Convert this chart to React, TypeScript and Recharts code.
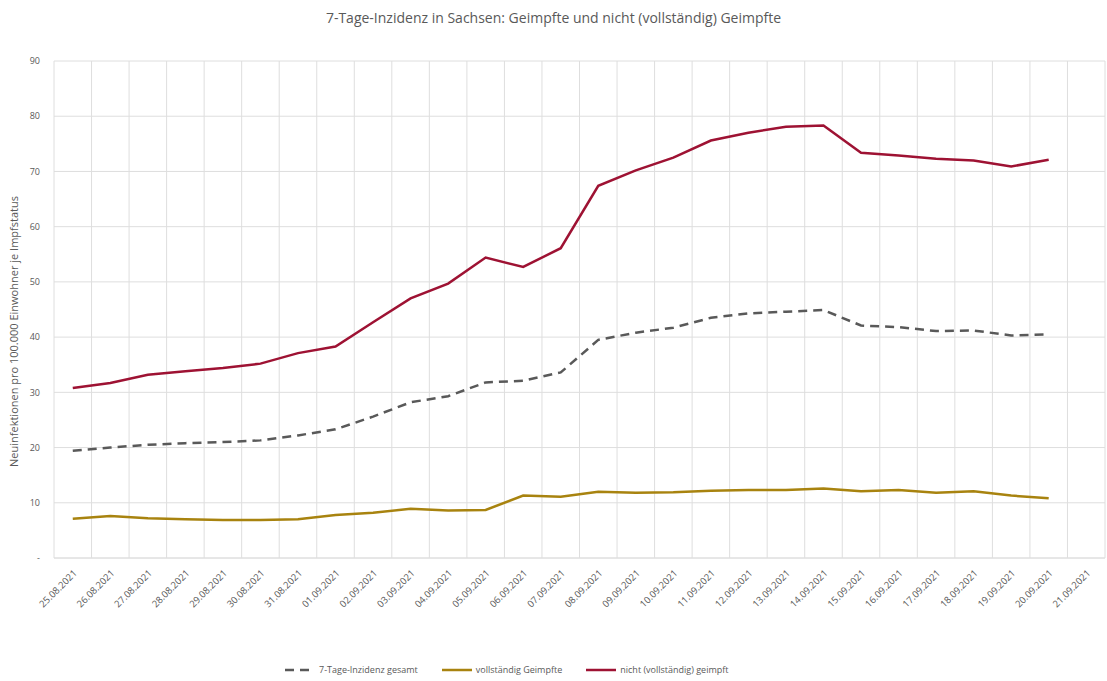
import React from 'react';
import { LineChart, Line, XAxis, YAxis, CartesianGrid } from 'recharts';

// Meldedatum (letzte Kategorie ohne Werte)
const dates = [
  '25.08.2021', '26.08.2021', '27.08.2021', '28.08.2021', '29.08.2021', '30.08.2021', '31.08.2021',
  '01.09.2021', '02.09.2021', '03.09.2021', '04.09.2021', '05.09.2021', '06.09.2021', '07.09.2021',
  '08.09.2021', '09.09.2021', '10.09.2021', '11.09.2021', '12.09.2021', '13.09.2021', '14.09.2021',
  '15.09.2021', '16.09.2021', '17.09.2021', '18.09.2021', '19.09.2021', '20.09.2021', '21.09.2021',
];

const gesamt = [
  19.4, 20.0, 20.5, 20.8, 21.0, 21.3, 22.2, 23.3, 25.6, 28.2, 29.3, 31.8, 32.1, 33.6,
  39.5, 40.8, 41.7, 43.5, 44.3, 44.6, 44.9, 42.1, 41.8, 41.1, 41.2, 40.3, 40.5,
];

const vollstaendig = [
  7.1, 7.6, 7.2, 7.0, 6.9, 6.9, 7.0, 7.8, 8.2, 8.9, 8.6, 8.7, 11.3, 11.1,
  12.0, 11.8, 11.9, 12.2, 12.3, 12.3, 12.6, 12.1, 12.3, 11.8, 12.1, 11.3, 10.8,
];

const nichtVollstaendig = [
  30.8, 31.7, 33.2, 33.8, 34.4, 35.2, 37.1, 38.3, 42.7, 47.0, 49.7, 54.4, 52.7, 56.1,
  67.4, 70.2, 72.5, 75.6, 77.0, 78.1, 78.3, 73.4, 72.9, 72.3, 72.0, 70.9, 72.1,
];

const yTicks = [0, 10, 20, 30, 40, 50, 60, 70, 80, 90];

const rows = dates.map((date, i) => ({
  idx: i,
  date,
  gesamt: gesamt[i] ?? null,
  vollstaendig: vollstaendig[i] ?? null,
  nichtVollstaendig: nichtVollstaendig[i] ?? null,
}));

const GRAY = '#595959';
const RED = '#9e1233';
const GOLD = '#a8830f';
const GRID = '#dedede';
const FONT = '"Open Sans", "Liberation Sans", sans-serif';

const LegendItem: React.FC<{ color: string; dashed?: boolean; label: string }> = ({ color, dashed, label }) => (
  <div style={{ display: 'flex', alignItems: 'center', marginRight: 24 }}>
    <svg width={30} height={6} style={{ marginRight: 4 }}>
      <line x1={0} y1={3} x2={30} y2={3} stroke={color} strokeWidth={2.5} strokeDasharray={dashed ? '9 6' : undefined} />
    </svg>
    <span>{label}</span>
  </div>
);

const App: React.FC = () => (
  <div style={{ position: 'absolute', left: 0, top: 0, width: 1107, height: 681, background: '#fff', fontFamily: FONT }}>
    <div style={{ position: 'absolute', top: 8, left: 0, width: 1107, textAlign: 'center', fontSize: 14, color: GRAY }}>
      7-Tage-Inzidenz in Sachsen: Geimpfte und nicht (vollständig) Geimpfte
    </div>
    <LineChart width={1107} height={681} data={rows} margin={{ top: 61, right: 2, bottom: 43, left: 24 }}>
      <CartesianGrid
        stroke={GRID}
        verticalCoordinatesGenerator={({ offset }: any) =>
          dates.map((_, k) => offset.left + (k * offset.width) / dates.length).concat(offset.left + offset.width)
        }
      />
      <XAxis
        dataKey="idx"
        type="number"
        domain={[-0.5, dates.length - 0.5]}
        ticks={rows.map(r => r.idx)}
        interval={0}
        tickFormatter={(i: number) => dates[i]}
        axisLine={{ stroke: GRID }}
        tickLine={false}
        height={80}
        tick={{ angle: -45, textAnchor: 'end', fontSize: 9.5, fill: GRAY, fontFamily: FONT }}
        tickMargin={5}
      />
      <YAxis
        domain={[0, 90]}
        ticks={yTicks}
        width={30}
        axisLine={false}
        tickLine={false}
        tickMargin={8}
        tickFormatter={(v: number) => (v === 0 ? '-' : String(v))}
        tick={{ fontSize: 9, fill: GRAY, fontFamily: FONT }}
        label={{
          content: ({ viewBox }: any) => {
            const cy = viewBox.y + viewBox.height / 2 + 22;
            return (
              <text x={18} y={cy} transform={`rotate(-90 18 ${cy})`} textAnchor="middle" fontSize={11} fill={GRAY} fontFamily={FONT}>
                Neuinfektionen  pro 100.000  Einwohner je Impfstatus
              </text>
            );
          },
        }}
      />
      <Line type="linear" dataKey="gesamt" stroke={GRAY} strokeWidth={2.5} strokeDasharray="9 6" dot={false} isAnimationActive={false} />
      <Line type="linear" dataKey="vollstaendig" stroke={GOLD} strokeWidth={2.5} dot={false} isAnimationActive={false} />
      <Line type="linear" dataKey="nichtVollstaendig" stroke={RED} strokeWidth={2.5} dot={false} isAnimationActive={false} />
    </LineChart>
    <div style={{ position: 'absolute', top: 663, left: 285, display: 'flex', fontSize: 9, color: GRAY }}>
      <LegendItem color={GRAY} dashed label="7-Tage-Inzidenz gesamt" />
      <LegendItem color={GOLD} label="vollständig Geimpfte" />
      <LegendItem color={RED} label="nicht (vollständig) geimpft" />
    </div>
  </div>
);

export default App;
